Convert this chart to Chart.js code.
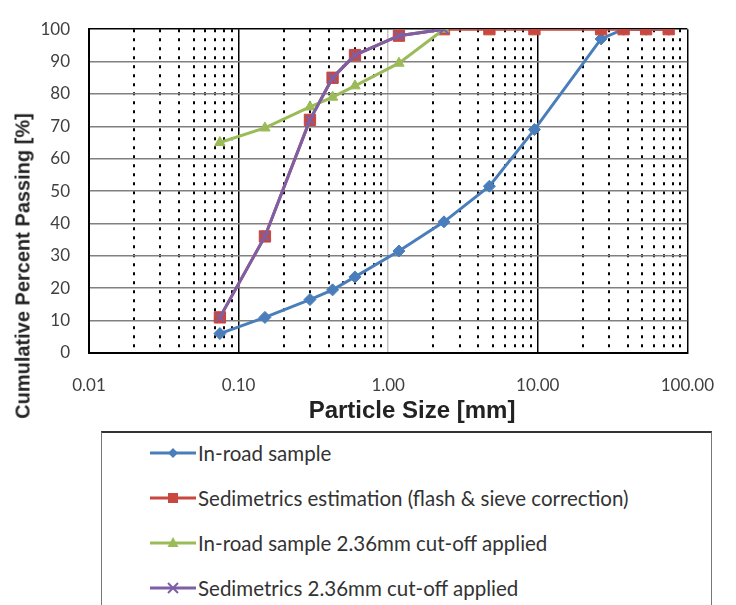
<!DOCTYPE html>
<html><head><meta charset="utf-8">
<script src="https://cdn.jsdelivr.net/npm/chart.js@4/dist/chart.umd.min.js"></script>
<style>
html,body{margin:0;padding:0;background:#fff;}
#wrap{position:relative;width:736px;height:605px;overflow:hidden;background:#fff;}
#c{position:absolute;left:0;top:0;}
#ytitle{position:absolute;left:23px;top:266px;transform:translate(-50%,-50%) rotate(-90deg);white-space:nowrap;font:bold 20px "Liberation Sans",Arial,sans-serif;color:#222;}
#xtitle{position:absolute;left:412px;top:410px;transform:translate(-50%,-50%);white-space:nowrap;font:bold 24px "Liberation Sans",Arial,sans-serif;color:#222;}
#legend{position:absolute;left:101px;top:431px;width:611px;height:200px;border:1px solid #777;border-top:2px solid #333;box-sizing:border-box;background:#fff;}
.item{position:absolute;left:48px;height:30px;display:flex;align-items:center;font:20.5px Lato,sans-serif;color:#333;white-space:nowrap;}
.item svg{display:block;margin-right:1px;}
</style>
</head><body>
<div id="wrap">
<canvas id="c" width="736" height="400" style="width:736px;height:400px"></canvas>
<div id="ytitle">Cumulative Percent Passing [%]</div>
<div id="xtitle">Particle Size [mm]</div>
<div id="legend"></div>
</div>
<script>
// ---- data ----
const sizes = [0.075, 0.15, 0.3, 0.425, 0.6, 1.18, 2.36, 4.75, 9.5, 26.5, 37.5, 53, 75];
const inRoad = [6, 11, 16.5, 19.5, 23.5, 31.5, 40.5, 51.5, 69, 97, 100, 100, 100];
const sedimetrics = [11, 36, 72, 85, 92, 98, 100, 100, 100, 100, 100, 100, 100];
const cutSizes = [0.075, 0.15, 0.3, 0.425, 0.6, 1.18, 2.36];
const inRoadCut = [65, 69.5, 76, 79, 82.5, 89.5, 100];
const sedimetricsCut = [11, 36, 72, 85, 92, 98, 100];
const seriesNames = ['In-road sample', 'Sedimetrics estimation (flash & sieve correction)', 'In-road sample 2.36mm cut-off applied', 'Sedimetrics 2.36mm cut-off applied'];
const xTickValues = [0.01,0.02,0.03,0.04,0.05,0.06,0.07,0.08,0.09,
  0.1,0.2,0.3,0.4,0.5,0.6,0.7,0.8,0.9,
  1,2,3,4,5,6,7,8,9,
  10,20,30,40,50,60,70,80,90,100];
const xMajorValues = [0.01, 0.1, 1, 10, 100];
const xTickLabels = ['0.01', '0.10', '1.00', '10.00', '100.00'];
const yTickValues = [0,10,20,30,40,50,60,70,80,90,100];

const colors = ['#4A7EBB', '#C8473F', '#9BBB59', '#7D5FA6'];
const styles = ['rectRot', 'rect', 'triangle', 'crossRot'];
const radii = [6, 8, 6, 6];

const majorIndex = v => xMajorValues.findIndex(m => Math.abs(m - v) / m < 1e-9);
const toPts = (xs, ys) => ys.map((y, i) => ({x: xs[i], y: y}));

const seriesData = [toPts(sizes, inRoad), toPts(sizes, sedimetrics), toPts(cutSizes, inRoadCut), toPts(cutSizes, sedimetricsCut)];
const orders = [4, 3, 2, 1];

const datasets = seriesData.map((d, i) => ({
  label: seriesNames[i], data: d,
  borderColor: colors[i], backgroundColor: colors[i],
  pointBackgroundColor: colors[i], pointBorderColor: colors[i],
  pointStyle: styles[i], pointRadius: radii[i], pointBorderWidth: i === 3 ? 2 : 1,
  borderWidth: 3, tension: 0, order: orders[i], fill: false
}));

new Chart(document.getElementById('c'), {
  type: 'line',
  data: {datasets},
  options: {
    responsive: false, animation: false, devicePixelRatio: 1,
    layout: {padding: {left: 0, top: 21, right: 33, bottom: 0}},
    plugins: {legend: {display: false}, tooltip: {enabled: false}},
    scales: {
      x: {
        type: 'logarithmic', min: 0.01, max: 100,
        afterBuildTicks: s => { s.ticks = xTickValues.map(v => ({value: v})); },
        afterFit: s => { s.height = 47; },
        ticks: {
          autoSkip: false, maxRotation: 0, minRotation: 0, padding: 22,
          color: '#404040', font: {family: 'Lato', size: 17},
          callback: v => { const k = majorIndex(v); return k >= 0 ? xTickLabels[k] : ''; }
        },
        grid: {
          drawTicks: false,
          color: c => (c.tick && majorIndex(c.tick.value) === 2) ? '#c4c4c4' : '#000',
          lineWidth: c => (c.tick && majorIndex(c.tick.value) >= 0) ? 1.5 : 2
        },
        border: {
          color: '#000', width: 2,
          dash: c => (c.tick && majorIndex(c.tick.value) < 0) ? [3, 6] : []
        }
      },
      y: {
        min: 0, max: 100,
        afterBuildTicks: s => { s.ticks = yTickValues.map(v => ({value: v})); },
        afterFit: s => { s.width = 89; },
        ticks: {padding: 19, color: '#404040', font: {family: 'Lato', size: 17}},
        grid: {
          drawTicks: false,
          color: c => (c.tick && (c.tick.value === 0 || c.tick.value === 100)) ? '#000' : '#808080',
          lineWidth: 1.5
        },
        border: {color: '#000', width: 2}
      }
    }
  }
});

// ---- legend (HTML) ----
function markerSvg(i) {
  const c = colors[i], cx = 23, cy = 10;
  let m = '';
  if (styles[i] === 'rectRot') m = `<polygon points="${cx},${cy-5} ${cx+5},${cy} ${cx},${cy+5} ${cx-5},${cy}" fill="${c}"/>`;
  else if (styles[i] === 'rect') m = `<rect x="${cx-5}" y="${cy-5}" width="10" height="10" fill="${c}"/>`;
  else if (styles[i] === 'triangle') m = `<polygon points="${cx},${cy-6} ${cx+5.5},${cy+4} ${cx-5.5},${cy+4}" fill="${c}"/>`;
  else m = `<path d="M${cx-5},${cy-5}L${cx+5},${cy+5}M${cx+5},${cy-5}L${cx-5},${cy+5}" stroke="${c}" stroke-width="2"/>`;
  return `<svg width="47" height="20"><line x1="0" y1="${cy}" x2="46" y2="${cy}" stroke="${c}" stroke-width="3"/>${m}</svg>`;
}
const leg = document.getElementById('legend');
seriesNames.forEach((n, i) => {
  const d = document.createElement('div');
  d.className = 'item';
  d.style.top = (20 + 45 * i - 15) + 'px';
  d.innerHTML = markerSvg(i) + '<span></span>';
  d.querySelector('span').textContent = n;
  leg.appendChild(d);
});
</script>
</body></html>
